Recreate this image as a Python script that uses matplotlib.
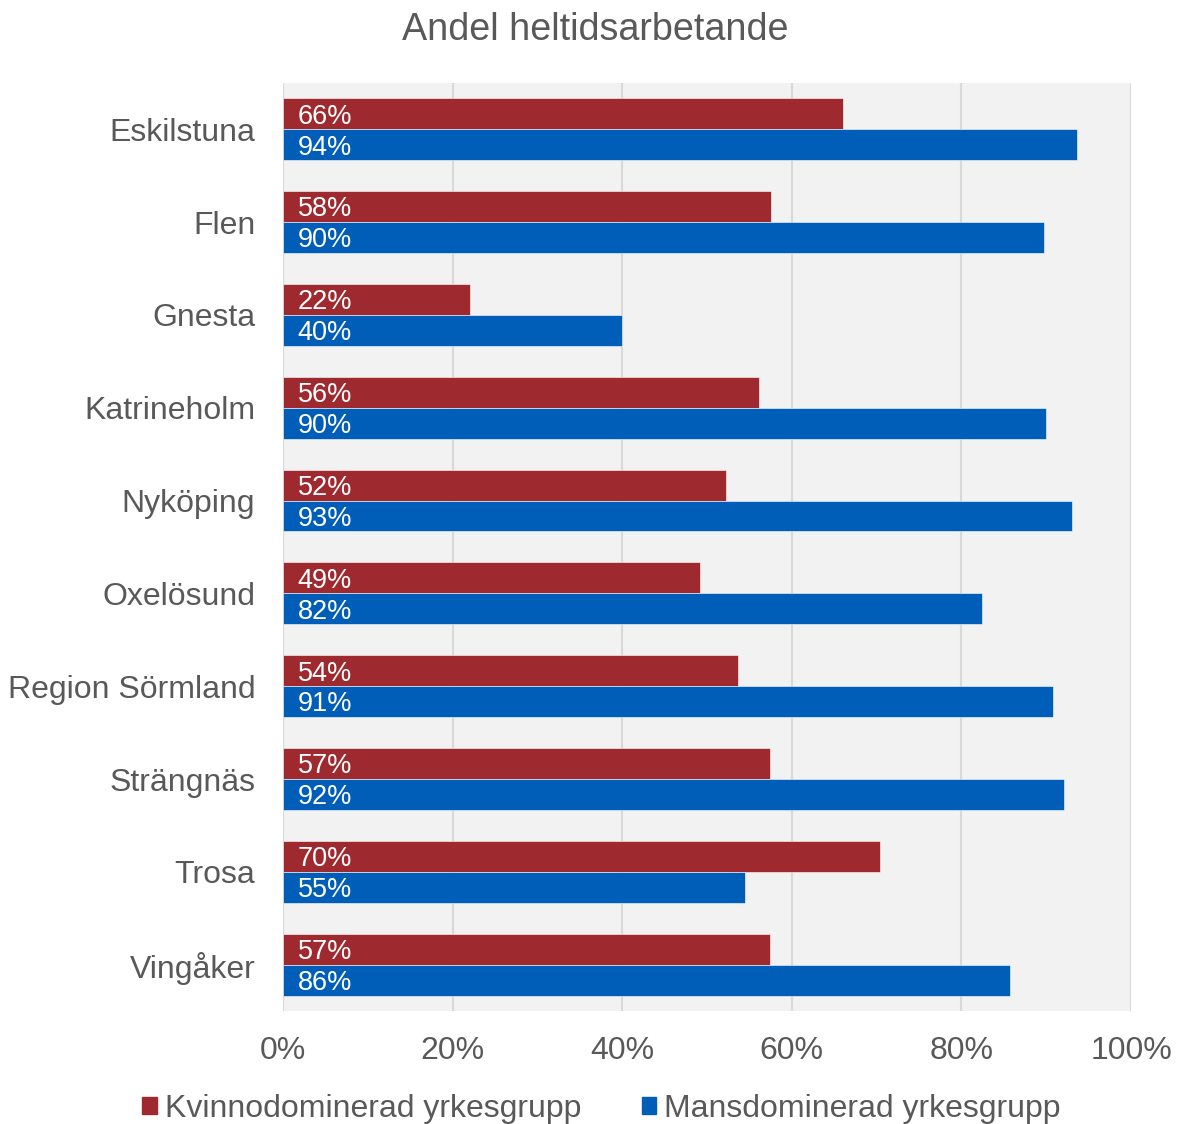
import matplotlib.pyplot as plt
import numpy as np
from matplotlib.patches import Patch

plt.rcParams['font.family'] = ['Liberation Sans', 'DejaVu Sans']

# data
categories = ['Eskilstuna', 'Flen', 'Gnesta', 'Katrineholm', 'Nyköping',
              'Oxelösund', 'Region Sörmland', 'Strängnäs', 'Trosa', 'Vingåker']
kvinno = [0.66, 0.576, 0.221, 0.561, 0.522, 0.492, 0.537, 0.574, 0.704, 0.574]
mans = [0.936, 0.897, 0.400, 0.900, 0.930, 0.824, 0.908, 0.921, 0.545, 0.857]
kvinno_labels = ['66%', '58%', '22%', '56%', '52%', '49%', '54%', '57%', '70%', '57%']
mans_labels = ['94%', '90%', '40%', '90%', '93%', '82%', '91%', '92%', '55%', '86%']
xticks = [0, 0.2, 0.4, 0.6, 0.8, 1.0]
xtick_labels = ['0%', '20%', '40%', '60%', '80%', '100%']

RED = '#9E2A2F'
BLUE = '#005EB8'
GREY = '#595959'

fig = plt.figure(figsize=(11.82, 11.24), dpi=100)
ax = fig.add_axes([0.2394, 0.1005, 0.9569 - 0.2394, 0.9262 - 0.1005])
ax.set_facecolor('#F2F2F2')

y = np.arange(len(categories))
h = 0.333
ax.barh(y - h / 2, kvinno, height=h, color=RED, edgecolor='white', linewidth=0.4, zorder=3)
ax.barh(y + h / 2, mans, height=h, color=BLUE, edgecolor='white', linewidth=0.4, zorder=3)

for i in range(len(categories)):
    ax.annotate(kvinno_labels[i], (0, y[i] - h / 2), xytext=(10.5, -2), textcoords='offset points',
                ha='left', va='center', color='white', fontsize=19.5, zorder=4)
    ax.annotate(mans_labels[i], (0, y[i] + h / 2), xytext=(10.5, -2), textcoords='offset points',
                ha='left', va='center', color='white', fontsize=19.5, zorder=4)

ax.set_xlim(0, 1.0)
ax.set_ylim(len(categories) - 0.5, -0.5)
ax.set_xticks(xticks)
ax.set_xticklabels(xtick_labels)
ax.set_yticks(y)
ax.set_yticklabels(categories)
ax.tick_params(axis='both', length=0, labelsize=23, colors=GREY)
ax.tick_params(axis='y', pad=20)
ax.tick_params(axis='x', pad=18)
ax.grid(axis='x', color='#D9D9D9', linewidth=1.5, zorder=0)
for s in ax.spines.values():
    s.set_visible(False)

fig.text(0.504, 1 - 30 / 1124, 'Andel heltidsarbetande', ha='center', va='center',
         fontsize=27.2, color=GREY)

handles = [Patch(color=RED, label='Kvinnodominerad yrkesgrupp'),
           Patch(color=BLUE, label='Mansdominerad yrkesgrupp')]
leg = fig.legend(handles=handles, loc='center', bbox_to_anchor=(0.509, 1 - 1109 / 1124),
                 ncol=2, frameon=False, fontsize=23, handlelength=0.45, handleheight=0.45,
                 handletextpad=0.25, columnspacing=1.9)
for t in leg.get_texts():
    t.set_color(GREY)

fig.savefig('out.png', dpi=100)
